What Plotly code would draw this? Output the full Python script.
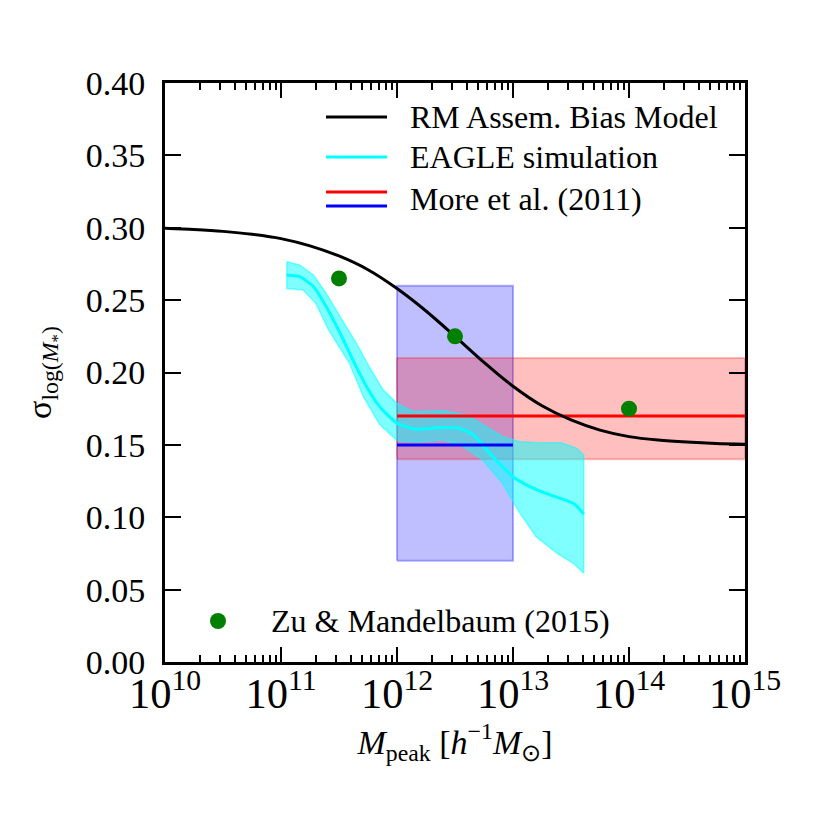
import plotly.graph_objects as go

# ---------------- data ----------------
# RM assembly bias model (black curve)
rm_logm = [10.0, 10.25, 10.5, 10.75, 11.0, 11.25, 11.5, 11.75, 12.0, 12.25, 12.5,
           12.75, 13.0, 13.25, 13.5, 13.75, 14.0, 14.25, 14.5, 14.75, 15.0]
rm_sigma = [0.2997, 0.2988, 0.2975, 0.2955, 0.2925, 0.2875, 0.2805, 0.2710, 0.2580,
            0.2425, 0.2250, 0.2070, 0.1905, 0.1770, 0.1672, 0.1602, 0.1557, 0.1533,
            0.1519, 0.1510, 0.1505]

# EAGLE simulation (cyan median and band)
eagle_logm = [11.05, 11.16, 11.28, 11.39, 11.51, 11.62, 11.74, 11.85, 12.0, 12.17,
              12.37, 12.54, 12.66, 12.80, 13.0, 13.15, 13.32, 13.52, 13.61]
eagle_sigma = [0.2674, 0.2662, 0.2593, 0.2455, 0.2271, 0.2086, 0.1900, 0.1764, 0.1650,
               0.1608, 0.1620, 0.1614, 0.1568, 0.1440, 0.1280, 0.1210, 0.1154, 0.1096,
               0.1022]
eagle_up_logm = [11.05, 11.16, 11.28, 11.39, 11.51, 11.65, 11.76, 11.88, 12.0, 12.14,
                 12.40, 12.60, 12.77, 12.91, 13.06, 13.23, 13.42, 13.55, 13.61]
eagle_up_sigma = [0.2766, 0.2743, 0.2674, 0.2547, 0.2386, 0.2202, 0.2040, 0.1880, 0.1787,
                  0.1730, 0.1736, 0.1706, 0.1626, 0.1557, 0.1522, 0.1515, 0.1515, 0.1476,
                  0.1430]
eagle_lo_logm = [11.05, 11.19, 11.30, 11.41, 11.48, 11.59, 11.71, 11.85, 12.0, 12.17,
                 12.40, 12.57, 12.74, 12.91, 13.06, 13.20, 13.38, 13.52, 13.61]
eagle_lo_sigma = [0.2580, 0.2570, 0.2478, 0.2294, 0.2200, 0.2064, 0.1833, 0.1640, 0.1530,
                  0.1520, 0.1534, 0.1488, 0.1395, 0.1234, 0.1027, 0.0866, 0.0751, 0.0682,
                  0.0613]

# More et al. (2011): red (broad mass range) and blue (narrow range)
more_red_mass = [1e12, 1e15]
more_red_sigma = 0.17
more_red_range = [0.14, 0.21]
more_blue_mass = [1e12, 1e13]
more_blue_sigma = 0.15
more_blue_range = [0.07, 0.26]

# Zu & Mandelbaum (2015) points
zu_mass = [10**11.5, 10**12.5, 1e14]
zu_sigma = [0.265, 0.225, 0.175]

legend_labels = ["RM Assem. Bias Model", "EAGLE simulation", "More et al. (2011)",
                 "Zu & Mandelbaum (2015)"]

FONT = "Liberation Serif"

fig = go.Figure()


def box(xs, ys, fill, edge):
    fig.add_trace(go.Scatter(
        x=[xs[0], xs[1], xs[1], xs[0], xs[0]],
        y=[ys[0], ys[0], ys[1], ys[1], ys[0]],
        mode="lines", fill="toself", fillcolor=fill,
        line=dict(color=edge, width=2), hoverinfo="skip", showlegend=False))


box(more_blue_mass, more_blue_range, "rgba(0,0,255,0.25)", "rgba(0,0,255,0.3)")
box(more_red_mass, more_red_range, "rgba(255,0,0,0.25)", "rgba(255,0,0,0.25)")

# EAGLE band
band_x = [10**v for v in eagle_up_logm] + [10**v for v in eagle_lo_logm[::-1]]
band_y = eagle_up_sigma + eagle_lo_sigma[::-1]
fig.add_trace(go.Scatter(x=band_x + [band_x[0]], y=band_y + [band_y[0]], mode="lines",
                         fill="toself", fillcolor="rgba(0,255,255,0.5)",
                         line=dict(color="rgba(0,255,255,0.5)", width=1.5),
                         hoverinfo="skip", showlegend=False))
fig.add_trace(go.Scatter(x=[10**v for v in eagle_logm], y=eagle_sigma, mode="lines",
                         line=dict(color="#00ffff", width=3, shape="spline", smoothing=0.6),
                         showlegend=False))

# More et al. lines
fig.add_trace(go.Scatter(x=more_red_mass, y=[more_red_sigma] * 2, mode="lines",
                         line=dict(color="#ff0000", width=3), showlegend=False))
fig.add_trace(go.Scatter(x=more_blue_mass, y=[more_blue_sigma] * 2, mode="lines",
                         line=dict(color="#0000ff", width=3), showlegend=False))

# RM model
fig.add_trace(go.Scatter(x=[10**v for v in rm_logm], y=rm_sigma, mode="lines",
                         line=dict(color="black", width=3, shape="spline", smoothing=0.8),
                         showlegend=False))

# Zu & Mandelbaum points
fig.add_trace(go.Scatter(x=zu_mass, y=zu_sigma, mode="markers",
                         marker=dict(color="#008000", size=16), showlegend=False))

# ---------------- manual legends (paper coords) ----------------
def px2paper(px, py):
    return (px - 165) / 580.0, (662 - py) / 579.0


shapes = []
annotations = []
legend_rows = [
    ([("black", 117)], 117, legend_labels[0]),
    ([("#00ffff", 157)], 157, legend_labels[1]),
    ([("#ff0000", 192), ("#0000ff", 206)], 199, legend_labels[2]),
]
for segs, ty, label in legend_rows:
    for col, ly in segs:
        x0, y0 = px2paper(326, ly)
        x1, _ = px2paper(387, ly)
        shapes.append(dict(type="line", xref="paper", yref="paper", x0=x0, x1=x1,
                           y0=y0, y1=y0, line=dict(color=col, width=3)))
    tx, tyy = px2paper(408, ty)
    annotations.append(dict(xref="paper", yref="paper", x=tx, y=tyy, text=label,
                            showarrow=False, xanchor="left", yanchor="middle",
                            font=dict(family=FONT, size=32, color="black")))

cx, cy = px2paper(218, 621)
rx, ry = 8 / 580.0, 8 / 579.0
shapes.append(dict(type="circle", xref="paper", yref="paper", x0=cx - rx, x1=cx + rx,
                   y0=cy - ry, y1=cy + ry, fillcolor="#008000", line=dict(width=0)))
tx, tyy = px2paper(269, 621)
annotations.append(dict(xref="paper", yref="paper", x=tx, y=tyy, text=legend_labels[3],
                        showarrow=False, xanchor="left", yanchor="middle",
                        font=dict(family=FONT, size=32, color="black")))

fig.update_layout(
    width=829, height=829,
    margin=dict(l=157, r=92, t=75, b=175),
    paper_bgcolor="white", plot_bgcolor="white",
    font=dict(family=FONT, size=33, color="black"),
    shapes=shapes, annotations=annotations,
    showlegend=False,
)

fig.update_xaxes(
    type="log", range=[10, 15],
    tickmode="linear", tick0=0, dtick=1,
    exponentformat="power", showexponent="all",
    ticks="inside", ticklen=15, tickwidth=2, tickcolor="black",
    minor=dict(ticks="inside", ticklen=7, tickwidth=2, tickcolor="black", showgrid=False),
    showline=True, linewidth=3, linecolor="black", mirror="allticks",
    showgrid=False, zeroline=False,
    ticklabelstandoff=-6,
    title=dict(text="<i>M</i><sub>peak</sub> [<i>h</i><sup>−1</sup><i>M</i><sub>⊙</sub>]",
               font=dict(family=FONT, size=34), standoff=14),
    tickfont=dict(family=FONT, size=34),
)
fig.update_yaxes(
    range=[0, 0.40], tickmode="linear", tick0=0, dtick=0.05, tickformat=".2f",
    ticks="inside", ticklen=16, tickwidth=2, tickcolor="black",
    showline=True, linewidth=3, linecolor="black", mirror="allticks",
    showgrid=False, zeroline=False,
    ticklabelstandoff=10,
    title=dict(text="σ<sub>log(<i>M</i><sub>*</sub>)</sub>",
               font=dict(family=FONT, size=34), standoff=24),
    tickfont=dict(family=FONT, size=34),
)

fig.write_html("out.html")
